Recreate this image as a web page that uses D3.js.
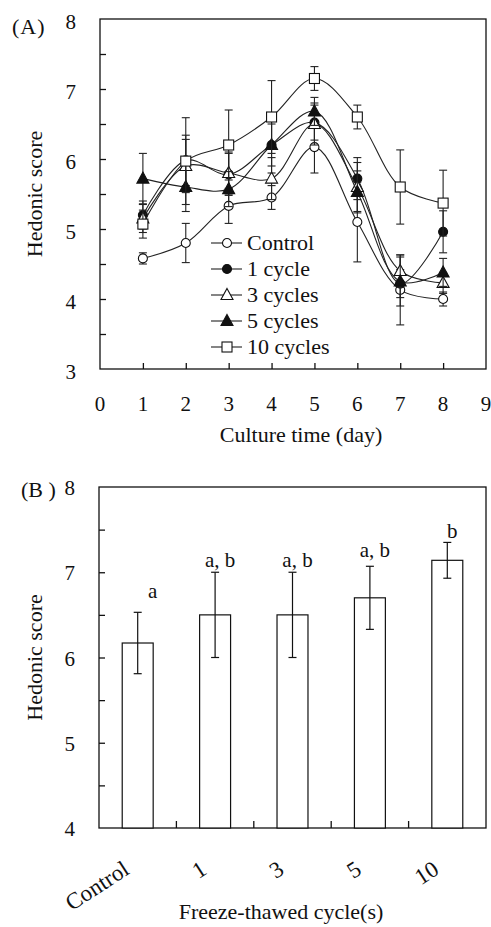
<!DOCTYPE html>
<html>
<head>
<meta charset="utf-8">
<script src="https://cdn.jsdelivr.net/npm/d3@7"></script>
<style>
  body { margin: 0; background: #fff; }
</style>
</head>
<body>
<div id="chart"></div>
<script>
// panel A data: hedonic score by culture day
const days = [1, 2, 3, 4, 5, 6, 7, 8];
const seriesNames = ['Control', '1 cycle', '3 cycles', '5 cycles', '10 cycles'];
const controlMean = [4.58, 4.80, 5.33, 5.45, 6.17, 5.10, 4.13, 4.00];
const controlErr  = [0.08, 0.28, 0.25, 0.17, 0.37, 0.57, 0.50, 0.10];
const cycle1Mean  = [5.20, 5.98, 5.78, 6.20, 6.52, 5.72, 4.22, 4.96];
const cycle1Err   = [0.20, 0.36, 0.30, 0.30, 0.25, 0.30, 0.20, 0.30];
const cycle3Mean  = [5.15, 5.90, 5.80, 5.72, 6.50, 5.60, 4.40, 4.23];
const cycle3Err   = [0.20, 0.38, 0.30, 0.30, 0.30, 0.35, 0.23, 0.15];
const cycle5Mean  = [5.72, 5.60, 5.57, 6.20, 6.68, 5.53, 4.25, 4.38];
const cycle5Err   = [0.36, 0.35, 0.25, 0.40, 0.20, 0.30, 0.35, 0.20];
const cycle10Mean = [5.07, 5.97, 6.20, 6.60, 7.15, 6.60, 5.60, 5.37];
const cycle10Err  = [0.20, 0.62, 0.50, 0.52, 0.17, 0.17, 0.53, 0.47];
const xTicksA = [0, 1, 2, 3, 4, 5, 6, 7, 8, 9];
const yTicksA = [3, 4, 5, 6, 7, 8];

// panel B data: day 5 score by freeze-thaw cycles
const cycleLabels = ['Control', '1', '3', '5', '10'];
const barMeans = [6.17, 6.50, 6.50, 6.70, 7.14];
const barErrs = [0.36, 0.50, 0.50, 0.37, 0.21];
const barLetters = ['a', 'a, b', 'a, b', 'a, b', 'b'];
const letterLevel = [6.70, 7.06, 7.06, 7.18, 7.40];
const yTicksB = [4, 5, 6, 7, 8];

const W = 491, H = 927;
const FONT = '"Liberation Serif", "Times New Roman", Times, serif';
const svg = d3.select('#chart').append('svg')
  .attr('width', W)
  .attr('height', H)
  .attr('font-family', FONT)
  .style('font-family', FONT);

const markers = ['circleOpen', 'circleFilled', 'triOpen', 'triFilled', 'squareOpen'];
const means = [controlMean, cycle1Mean, cycle3Mean, cycle5Mean, cycle10Mean];
const errs = [controlErr, cycle1Err, cycle3Err, cycle5Err, cycle10Err];
const series = seriesNames.map((name, i) => ({
  name: name,
  marker: markers[i],
  values: days.map((d, j) => ({ day: d, v: means[i][j], e: errs[i][j] }))
}));

function drawMarker(sel, type) {
  const filled = type.indexOf('Filled') >= 0;
  const fill = filled ? '#111' : '#fff';
  let m;
  if (type.startsWith('circle')) {
    m = sel.append('circle').attr('r', 4.5);
  } else if (type.startsWith('tri')) {
    m = sel.append('path').attr('d', 'M0,-6.5L6,4.5L-6,4.5Z');
  } else {
    m = sel.append('rect').attr('x', -5).attr('y', -5).attr('width', 10).attr('height', 10);
  }
  m.attr('fill', fill).attr('stroke', '#111').attr('stroke-width', 1.1);
}

// ---------- Panel A ----------
const A = { left: 100, right: 486, top: 19, bottom: 369 };
const xA = d3.scaleLinear().domain([0, 9]).range([A.left, A.right]);
const yA = d3.scaleLinear().domain([3, 8]).range([A.bottom, A.top]);
const gA = svg.append('g');

gA.append('rect')
  .attr('x', A.left).attr('y', A.top)
  .attr('width', A.right - A.left).attr('height', A.bottom - A.top)
  .attr('fill', 'none').attr('stroke', '#111').attr('stroke-width', 1.3);

// inward ticks
gA.append('g')
  .attr('transform', `translate(0,${A.bottom})`)
  .call(d3.axisTop(xA).tickValues(d3.range(1, 9)).tickSize(6).tickFormat(''))
  .call(g => g.select('.domain').remove())
  .selectAll('line').attr('stroke', '#111').attr('stroke-width', 1.3);
gA.append('g')
  .attr('transform', `translate(${A.left},0)`)
  .call(d3.axisRight(yA).tickValues(d3.range(3.5, 8, 0.5)).tickSize(6).tickFormat(''))
  .call(g => g.select('.domain').remove())
  .selectAll('line').attr('stroke', '#111').attr('stroke-width', 1.3);

gA.selectAll('.xlabA').data(xTicksA).join('text')
  .attr('x', d => xA(d)).attr('y', A.bottom + 42)
  .attr('text-anchor', 'middle').attr('font-size', 21)
  .attr('fill', '#111')
  .text(d => d);
gA.selectAll('.ylabA').data(yTicksA).join('text')
  .attr('x', A.left - 24).attr('y', d => yA(d) + 10)
  .attr('text-anchor', 'end').attr('font-size', 21)
  .attr('fill', '#111')
  .text(d => d);

gA.append('text').attr('x', 12).attr('y', 34).attr('font-size', 22)
  .attr('letter-spacing', 1).attr('fill', '#111').text('(A)');
gA.append('text')
  .attr('x', (A.left + A.right) / 2 + 8).attr('y', 442)
  .attr('text-anchor', 'middle').attr('font-size', 22)
  .attr('fill', '#111')
  .text('Culture time (day)');
gA.append('text')
  .attr('transform', `translate(42,${(A.top + A.bottom) / 2}) rotate(-90)`)
  .attr('text-anchor', 'middle').attr('font-size', 22)
  .attr('fill', '#111')
  .text('Hedonic score');

const line = d3.line()
  .x(d => xA(d.day)).y(d => yA(d.v))
  .curve(d3.curveCatmullRom.alpha(0.5));

const sG = gA.selectAll('.series').data(series).join('g');
sG.append('path')
  .attr('d', d => line(d.values))
  .attr('fill', 'none').attr('stroke', '#222').attr('stroke-width', 1.1);

// error bars
sG.each(function (s) {
  const g = d3.select(this);
  s.values.forEach(p => {
    const x = xA(p.day);
    g.append('line').attr('x1', x).attr('x2', x)
      .attr('y1', yA(p.v - p.e)).attr('y2', yA(p.v + p.e))
      .attr('stroke', '#222').attr('stroke-width', 1.1);
    [p.v - p.e, p.v + p.e].forEach(v => {
      g.append('line').attr('x1', x - 4).attr('x2', x + 4)
        .attr('y1', yA(v)).attr('y2', yA(v))
        .attr('stroke', '#222').attr('stroke-width', 1.1);
    });
  });
});
sG.each(function (s) {
  const g = d3.select(this);
  s.values.forEach(p => {
    drawMarker(g.append('g').attr('transform', `translate(${xA(p.day)},${yA(p.v)})`), s.marker);
  });
});

// legend
const legend = gA.append('g').attr('transform', 'translate(211,243)');
series.forEach((s, i) => {
  const row = legend.append('g').attr('transform', `translate(0,${i * 26})`);
  row.append('line').attr('x1', 0).attr('x2', 31).attr('y1', 0).attr('y2', 0)
    .attr('stroke', '#222').attr('stroke-width', 1.1);
  drawMarker(row.append('g').attr('transform', 'translate(16,0)'), s.marker);
  row.append('text').attr('x', 36).attr('y', 7).attr('font-size', 22)
    .attr('fill', '#111').text(s.name);
});

// ---------- Panel B ----------
const B = { left: 99, right: 486, top: 487, bottom: 828 };
const xB = d3.scaleBand().domain(cycleLabels).range([B.left, B.right])
  .paddingInner(0.6).paddingOuter(0.3);
const yB = d3.scaleLinear().domain([4, 8]).range([B.bottom, B.top]);
const gB = svg.append('g');

gB.append('rect')
  .attr('x', B.left).attr('y', B.top)
  .attr('width', B.right - B.left).attr('height', B.bottom - B.top)
  .attr('fill', 'none').attr('stroke', '#111').attr('stroke-width', 1.3);

const step = xB.step();
gB.selectAll('.xtickB').data(cycleLabels.slice(1)).join('line')
  .attr('x1', (d, i) => B.left + step * (i + 1)).attr('x2', (d, i) => B.left + step * (i + 1))
  .attr('y1', B.bottom).attr('y2', B.bottom - 7)
  .attr('stroke', '#111').attr('stroke-width', 1.3);
gB.append('g')
  .attr('transform', `translate(${B.left},0)`)
  .call(d3.axisRight(yB).tickValues(d3.range(4.5, 8, 0.5)).tickSize(6).tickFormat(''))
  .call(g => g.select('.domain').remove())
  .selectAll('line').attr('stroke', '#111').attr('stroke-width', 1.3);

gB.selectAll('.ylabB').data(yTicksB).join('text')
  .attr('x', B.left - 24).attr('y', d => yB(d) + 8)
  .attr('text-anchor', 'end').attr('font-size', 21)
  .attr('fill', '#111')
  .text(d => d);

gB.append('text').attr('x', 21).attr('y', 497).attr('font-size', 22)
  .attr('fill', '#111').text('(B )');
gB.append('text')
  .attr('x', 281).attr('y', 919)
  .attr('text-anchor', 'middle').attr('font-size', 22)
  .attr('fill', '#111')
  .text('Freeze-thawed cycle(s)');
gB.append('text')
  .attr('transform', `translate(42,${(B.top + B.bottom) / 2}) rotate(-90)`)
  .attr('text-anchor', 'middle').attr('font-size', 22)
  .attr('fill', '#111')
  .text('Hedonic score');

gB.selectAll('.bar').data(cycleLabels).join('rect')
  .attr('x', d => xB(d)).attr('width', xB.bandwidth())
  .attr('y', (d, i) => yB(barMeans[i]))
  .attr('height', (d, i) => yB(4) - yB(barMeans[i]))
  .attr('fill', '#fff').attr('stroke', '#111').attr('stroke-width', 1.2);

cycleLabels.forEach((c, i) => {
  const x = xB(c) + xB.bandwidth() / 2;
  const lo = barMeans[i] - barErrs[i], hi = barMeans[i] + barErrs[i];
  gB.append('line').attr('x1', x).attr('x2', x).attr('y1', yB(lo)).attr('y2', yB(hi))
    .attr('stroke', '#111').attr('stroke-width', 1.2);
  [lo, hi].forEach(v => {
    gB.append('line').attr('x1', x - 4).attr('x2', x + 4).attr('y1', yB(v)).attr('y2', yB(v))
      .attr('stroke', '#111').attr('stroke-width', 1.2);
  });
  gB.append('text')
    .attr('x', x + (i === 0 ? 15 : 5)).attr('y', yB(letterLevel[i]))
    .attr('text-anchor', 'middle').attr('font-size', 21)
    .attr('fill', '#111')
    .text(barLetters[i]);
  gB.append('text')
    .attr('transform', `translate(${x - 7},${B.bottom + 45}) rotate(-33)`)
    .attr('text-anchor', 'end').attr('font-size', 23)
    .attr('fill', '#111')
    .text(c);
});
</script>
</body>
</html>
